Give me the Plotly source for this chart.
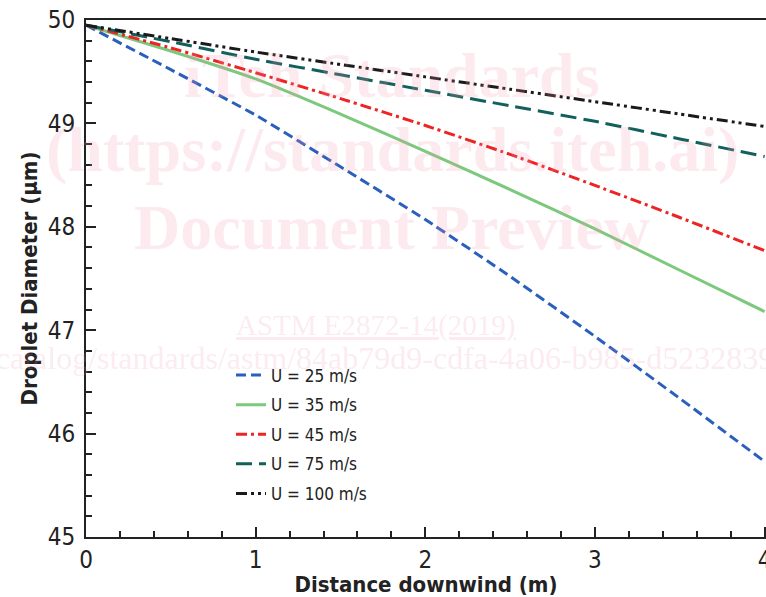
import plotly.graph_objects as go

distance = [0, 0.5, 1, 1.5, 2, 2.5, 3, 3.5, 4]
d_25 = [49.95, 49.52, 49.08, 48.58, 48.07, 47.52, 46.94, 46.34, 45.73]
d_35 = [49.95, 49.70, 49.43, 49.09, 48.73, 48.36, 47.98, 47.58, 47.18]
d_45 = [49.95, 49.73, 49.49, 49.24, 48.98, 48.70, 48.40, 48.09, 47.77]
d_75 = [49.95, 49.79, 49.62, 49.47, 49.32, 49.17, 49.02, 48.85, 48.68]
d_100 = [49.95, 49.82, 49.69, 49.57, 49.45, 49.33, 49.21, 49.09, 48.97]

names = ["U = 25 m/s", "U = 35 m/s", "U = 45 m/s", "U = 75 m/s", "U = 100 m/s"]
series = [d_25, d_35, d_45, d_75, d_100]
colors = ["#2b5fbd", "#7cc87c", "#ee2424", "#12605c", "#1a1a1a"]
dashes = ["10px,5px", "solid", "11px,4px,3px,4px", "16px,7px",
          "11px,4px,3px,4px,3px,4px"]

FONT = "DejaVu Sans Condensed, DejaVu Sans, sans-serif"

fig = go.Figure()
for i, (nm, ys) in enumerate(zip(names, series)):
    fig.add_trace(go.Scatter(
        x=distance, y=ys, mode="lines", name=nm, legendgroup=nm,
        line=dict(color=colors[i], width=3, dash=dashes[i], shape="spline", smoothing=0.5),
    ))

pink = "rgba(240,150,175,0.2)"


def px_x(p):
    return (p - 86) / 680


def px_y(p):
    return (537 - p) / 517


wm = [
    ("iTeh Standards", 392, 75),
    ("(https://standards.iteh.ai)", 392, 150),
    ("Document Preview", 392, 227),
]
for txt, xp, ypx in wm:
    fig.add_annotation(text="<b>" + txt + "</b>", xref="paper", yref="paper",
                       x=px_x(xp), y=px_y(ypx), xanchor="center", yanchor="middle",
                       showarrow=False, font=dict(family="Liberation Serif", size=64, color=pink))
fig.add_annotation(text="<u>ASTM E2872-14(2019)</u>", xref="paper", yref="paper",
                   x=px_x(376), y=px_y(325), xanchor="center", yanchor="middle", showarrow=False,
                   font=dict(family="Liberation Serif", size=29, color=pink))
fig.add_annotation(text="https://standards.iteh.ai/catalog/standards/astm/84ab79d9-cdfa-4a06-b985-d52328394c2a",
                   xref="paper", yref="paper", xanchor="left", yanchor="middle",
                   x=px_x(-312), y=px_y(358), showarrow=False,
                   font=dict(family="Liberation Serif", size=32, color=pink))

fig.update_layout(
    width=766, height=597,
    margin=dict(l=86, r=0, t=20, b=60),
    paper_bgcolor="white", plot_bgcolor="white",
    font=dict(family=FONT, color="#222222"),
    showlegend=True,
    legend=dict(x=px_x(231), y=px_y(357.5), xanchor="left", yanchor="top",
                bgcolor="rgba(0,0,0,0)", font=dict(family=FONT, size=17, color="#222222"),
                tracegroupgap=4.5, itemwidth=30),
    xaxis=dict(range=[0, 4.008], tickvals=[0, 1, 2, 3, 4], showgrid=False, zeroline=False,
               automargin=False, ticklabeloverflow="allow",
               showline=True, linecolor="#222222", linewidth=2, mirror=True,
               ticks="inside", ticklen=10, tickwidth=2, tickcolor="#222222",
               tickfont=dict(family=FONT, size=24, color="#222222"),
               ticklabelstandoff=0,
               minor=dict(dtick=0.2, ticks="inside", ticklen=6, tickwidth=2, tickcolor="#222222"),
               title=dict(text="<b>Distance downwind (m)</b>", standoff=2,
                          font=dict(family=FONT, size=22, color="#222222"))),
    yaxis=dict(range=[45, 50], dtick=1, showgrid=False, zeroline=False, automargin=False,
               showline=True, linecolor="#222222", linewidth=2, mirror=False,
               ticks="inside", ticklen=10, tickwidth=2, tickcolor="#222222",
               tickfont=dict(family=FONT, size=24, color="#222222"),
               ticklabelstandoff=4,
               minor=dict(dtick=0.2, ticks="inside", ticklen=6, tickwidth=2, tickcolor="#222222"),
               title=dict(text="<b>Droplet Diameter (µm)</b>", standoff=4,
                          font=dict(family=FONT, size=22, color="#222222"))),
)

fig.write_html("out.html", config={"displayModeBar": False},
               post_script="document.body.style.margin='0px';document.body.style.overflow='hidden';")
